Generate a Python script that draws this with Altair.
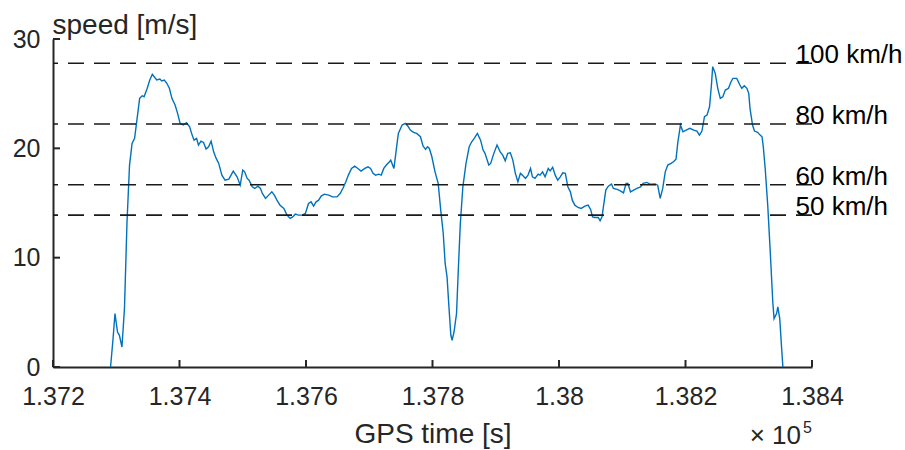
import altair as alt
import pandas as pd

# GPS time [s] and speed [m/s]
time_s = [
    137291, 137295, 137298, 137302, 137305, 137309, 137313, 137317, 137321, 137325,
    137329, 137333, 137337, 137341, 137344, 137349, 137353, 137357, 137360, 137364,
    137369, 137372, 137376, 137380, 137384, 137388, 137393, 137397, 137401, 137406,
    137411, 137416, 137420, 137423, 137427, 137430, 137434, 137438, 137442, 137446,
    137450, 137454, 137458, 137462, 137467, 137472, 137478, 137485, 137491, 137496,
    137500, 137503, 137507, 137510, 137515, 137519, 137524, 137528, 137531, 137536,
    137541, 137546, 137550, 137554, 137559, 137565, 137570, 137575, 137579, 137583,
    137588, 137594, 137599, 137604, 137608, 137612, 137616, 137620, 137624, 137629,
    137636, 137642, 137649, 137654, 137659, 137663, 137667, 137672, 137677, 137682,
    137687, 137693, 137698, 137702, 137706, 137710, 137715, 137719, 137723, 137727,
    137732, 137734, 137739, 137743, 137746, 137752, 137757, 137761, 137765, 137770,
    137775, 137781, 137785, 137789, 137792, 137795, 137799, 137804, 137809, 137813,
    137817, 137820, 137823, 137826, 137829, 137831, 137834, 137838, 137841, 137844,
    137848, 137853, 137858, 137862, 137866, 137871, 137876, 137880, 137883, 137889,
    137892, 137897, 137902, 137907, 137911, 137915, 137919, 137923, 137927, 137931,
    137935, 137939, 137942, 137947, 137951, 137955, 137958, 137962, 137967, 137970,
    137974, 137978, 137983, 137986, 137990, 137994, 137998, 138002, 138006, 138010,
    138014, 138018, 138021, 138025, 138030, 138035, 138041, 138046, 138050, 138053,
    138057, 138062, 138065, 138068, 138071, 138074, 138078, 138083, 138086, 138092,
    138097, 138102, 138106, 138109, 138113, 138118, 138123, 138129, 138133, 138139,
    138144, 138152, 138156, 138160, 138164, 138168, 138172, 138177, 138181, 138185,
    138188, 138192, 138196, 138201, 138207, 138213, 138218, 138222, 138226, 138230,
    138234, 138238, 138241, 138243, 138247, 138251, 138255, 138259, 138263, 138268,
    138272, 138275, 138281, 138286, 138289, 138293, 138297, 138300, 138302, 138306,
    138309, 138314, 138318, 138321, 138323, 138326, 138330, 138334, 138338, 138340,
    138344, 138346, 138349, 138352, 138354,
]
speed_ms = [
    0.00, 2.63, 4.89, 3.20, 2.90, 1.83, 5.37, 13.27, 18.47, 20.45,
    20.91, 22.74, 24.57, 24.81, 24.72, 25.49, 26.25, 26.77, 26.55, 26.25,
    26.34, 26.16, 26.25, 25.95, 25.49, 24.57, 23.96, 23.20, 22.28, 22.13,
    22.34, 21.97, 21.21, 20.75, 20.91, 20.30, 20.66, 20.54, 19.93, 20.14,
    20.66, 19.68, 19.08, 18.62, 17.55, 17.09, 17.18, 17.92, 17.39, 16.63,
    18.01, 17.85, 17.25, 17.09, 16.48, 16.33, 16.54, 16.33, 15.87, 15.42,
    15.72, 16.02, 15.72, 15.26, 14.80, 14.50, 13.89, 13.59, 13.73, 13.98,
    13.89, 13.89, 14.04, 14.96, 15.11, 14.71, 15.11, 15.26, 15.63, 15.81,
    15.72, 15.56, 15.56, 15.87, 16.42, 16.94, 17.55, 18.16, 18.37, 18.16,
    17.92, 18.16, 18.31, 18.16, 17.71, 17.55, 17.64, 17.55, 18.16, 18.47,
    18.77, 18.92, 18.16, 19.99, 21.37, 22.13, 22.28, 22.04, 21.67, 21.46,
    21.37, 21.06, 20.21, 19.90, 20.14, 19.99, 19.23, 17.85, 16.79, 14.35,
    12.21, 9.47, 8.24, 5.49, 2.90, 2.44, 3.20, 4.89, 9.16, 13.13,
    16.48, 18.62, 20.14, 20.60, 20.91, 21.37, 20.75, 19.84, 19.54, 18.47,
    18.62, 19.54, 20.30, 19.68, 19.38, 18.86, 19.54, 19.59, 18.92, 17.71,
    16.94, 17.71, 17.55, 17.25, 17.55, 18.16, 17.39, 17.25, 17.64, 17.55,
    17.85, 17.39, 18.16, 17.94, 18.26, 17.55, 17.09, 17.39, 17.76, 17.71,
    16.48, 16.02, 15.26, 14.80, 14.59, 14.50, 14.71, 14.80, 14.41, 13.73,
    13.68, 13.68, 13.37, 13.73, 14.96, 16.18, 16.54, 16.73, 16.33, 16.24,
    16.11, 15.93, 16.79, 16.79, 16.02, 16.18, 16.33, 16.48, 16.79, 16.88,
    16.73, 16.75, 16.63, 15.42, 16.33, 17.85, 18.47, 18.62, 18.77, 19.01,
    20.60, 22.13, 21.51, 21.67, 21.83, 21.67, 21.58, 21.21, 21.58, 22.89,
    23.04, 23.80, 25.79, 27.47, 26.86, 25.49, 24.57, 24.72, 25.33, 25.49,
    26.09, 26.40, 26.40, 25.79, 25.49, 25.73, 25.49, 25.03, 23.66, 22.13,
    21.58, 21.46, 21.21, 21.06, 20.14, 18.16, 14.80, 10.53, 5.95, 4.43,
    4.89, 5.49, 4.43, 1.68, 0.00,
]

limit_kmh = [100, 80, 60, 50]
limit_labels = ["100 km/h", "80 km/h", "60 km/h", "50 km/h"]
label_time = 138374

x_ticks = [137200, 137400, 137600, 137800, 138000, 138200, 138400]
y_ticks = [0, 10, 20, 30]

df = pd.DataFrame({"t": time_s, "v": speed_ms})
lim = pd.DataFrame({
    "v": [k / 3.6 for k in limit_kmh],
    "label": limit_labels,
    "t": [label_time] * len(limit_kmh),
})
xt = pd.DataFrame({"t": x_ticks})
yt = pd.DataFrame({"v": y_ticks})

FONT = "Liberation Sans"
AX = "#262626"
W, H = 759, 328

xscale = alt.Scale(domain=[137200, 138400], nice=False, zero=False)
yscale = alt.Scale(domain=[0, 30], nice=False, zero=False)

xaxis = alt.Axis(
    values=x_ticks, labelExpr="format(datum.value/100000, '.3~f')",
    ticks=False, grid=False, domainColor=AX, domainWidth=2,
    labelFont=FONT, labelFontSize=25, labelColor=AX, labelPadding=17,
    labelFlush=False, labelOverlap=False,
    title="GPS time [s]", titleFont=FONT, titleFontSize=28, titleColor=AX,
    titleFontWeight="normal", titleBaseline="alphabetic", titleY=75,
)
yaxis = alt.Axis(
    values=y_ticks, ticks=False, grid=False, domainColor=AX, domainWidth=2,
    labelFont=FONT, labelFontSize=25, labelColor=AX, labelPadding=13,
    labelFlush=False, labelOverlap=False,
    title="speed [m/s]", titleFont=FONT, titleFontSize=28, titleColor=AX,
    titleFontWeight="normal", titleAngle=0, titleAlign="left",
    titleBaseline="alphabetic", titleX=-1, titleY=-6,
)

line = alt.Chart(df).mark_line(color="#0072BD", strokeWidth=1.4).encode(
    x=alt.X("t:Q", scale=xscale, axis=xaxis),
    y=alt.Y("v:Q", scale=yscale, axis=yaxis),
)

rules = alt.Chart(lim).mark_rule(
    color="#1a1a1a", strokeWidth=1.6, strokeDash=[16, 10]
).encode(y=alt.Y("v:Q", scale=yscale))

labels = alt.Chart(lim).mark_text(
    font=FONT, fontSize=26, color="#000000", align="left", baseline="alphabetic"
).encode(
    x=alt.X("t:Q", scale=xscale),
    y=alt.Y("v:Q", scale=yscale),
    text="label:N",
)

xtick_marks = alt.Chart(xt).mark_rule(color=AX, strokeWidth=2).encode(
    x=alt.X("t:Q", scale=xscale),
    y=alt.value(H), y2=alt.value(H - 7),
)
ytick_marks = alt.Chart(yt).mark_rule(color=AX, strokeWidth=2).encode(
    y=alt.Y("v:Q", scale=yscale),
    x=alt.value(0), x2=alt.value(7),
)

exp_base = alt.Chart(pd.DataFrame({"s": ["\u00d7 10"]})).mark_text(
    font=FONT, fontSize=26, color=AX, align="right", baseline="alphabetic"
).encode(x=alt.value(748), y=alt.value(405), text="s:N")
exp_pow = alt.Chart(pd.DataFrame({"s": ["5"]})).mark_text(
    font=FONT, fontSize=16, color=AX, align="left", baseline="alphabetic"
).encode(x=alt.value(750), y=alt.value(394), text="s:N")

chart = alt.layer(
    line, rules, labels, xtick_marks, ytick_marks, exp_base, exp_pow
).properties(
    width=W, height=H,
    autosize=alt.AutoSizeParams(type="none"),
    padding={"left": 53, "top": 39, "right": 93, "bottom": 83},
    background="white",
).configure_view(stroke=None)

chart.save("out.html", embed_options={"renderer": "svg", "actions": False})
